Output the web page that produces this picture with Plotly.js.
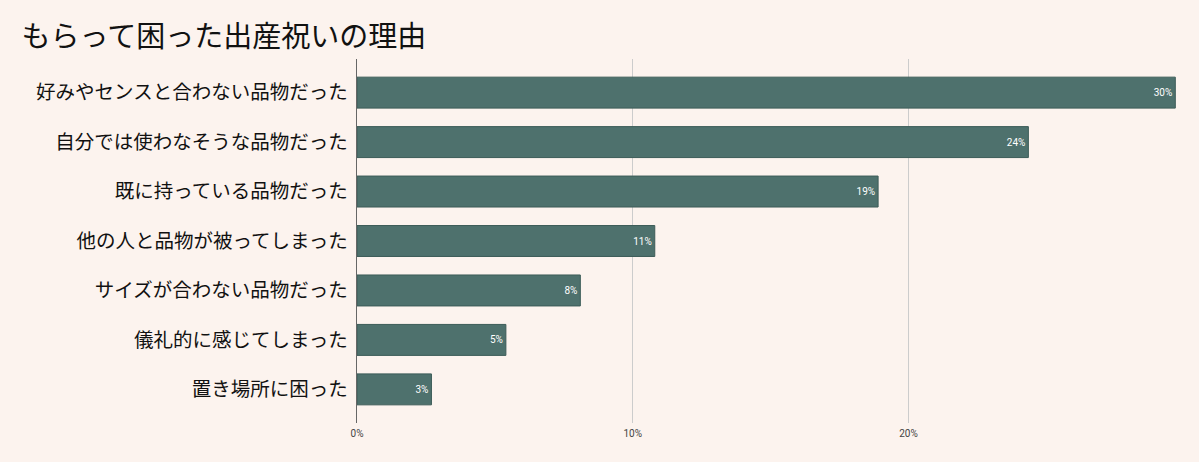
<!DOCTYPE html>
<html><head><meta charset="utf-8">
<script src="https://cdn.plot.ly/plotly-3.0.1.min.js"></script>
<style>body{margin:0;background:#fcf3ee;}</style>
</head><body>
<div id="chart" style="width:1199px;height:462px;"></div>
<script>
const categories = ["好みやセンスと合わない品物だった","自分では使わなそうな品物だった","既に持っている品物だった","他の人と品物が被ってしまった","サイズが合わない品物だった","儀礼的に感じてしまった","置き場所に困った"];
const values = [29.68, 24.35, 18.9, 10.8, 8.1, 5.4, 2.7];
const valueLabels = ["30%","24%","19%","11%","8%","5%","3%"];
const tickVals = [0, 10, 20];
const tickText = ["0%","10%","20%"];

Plotly.newPlot("chart", [{
  type: "bar",
  orientation: "h",
  y: categories,
  x: values,
  text: valueLabels,
  textposition: "inside",
  insidetextanchor: "end",
  textfont: {family: "Roboto", size: 10, color: "#ffffff"},
  marker: {color: "#4e716d", line: {color: "#3c5c58", width: 1}},
  hoverinfo: "none"
}], {
  width: 1199, height: 462,
  paper_bgcolor: "#fcf3ee", plot_bgcolor: "#fcf3ee",
  margin: {l: 357, r: 19, t: 59, b: 39},
  bargap: 0.374,
  showlegend: false,
  title: {text: "もらって困った出産祝いの理由", x: 0.018, xanchor: "left", y: 0.92, yanchor: "middle",
          font: {family: "Noto Sans CJK JP", size: 29, color: "#111111"}},
  xaxis: {range: [0, 29.85], tickvals: tickVals, ticktext: tickText, showgrid: true, gridcolor: "#cccccc",
          zeroline: false, showline: false, ticks: "", ticklabelstandoff: 3,
          tickfont: {family: "Roboto", size: 10, color: "#444444"}},
  yaxis: {range: [6.68, -0.68], ticks: "", ticklen: 0, showline: true, linecolor: "#666666", linewidth: 1,
          tickfont: {family: "Noto Sans CJK JP", size: 19.5, color: "#111111"}, ticksuffix: " "},
  font: {family: "Noto Sans CJK JP"}
}, {displayModeBar: false, staticPlot: true});
</script>
</body></html>
